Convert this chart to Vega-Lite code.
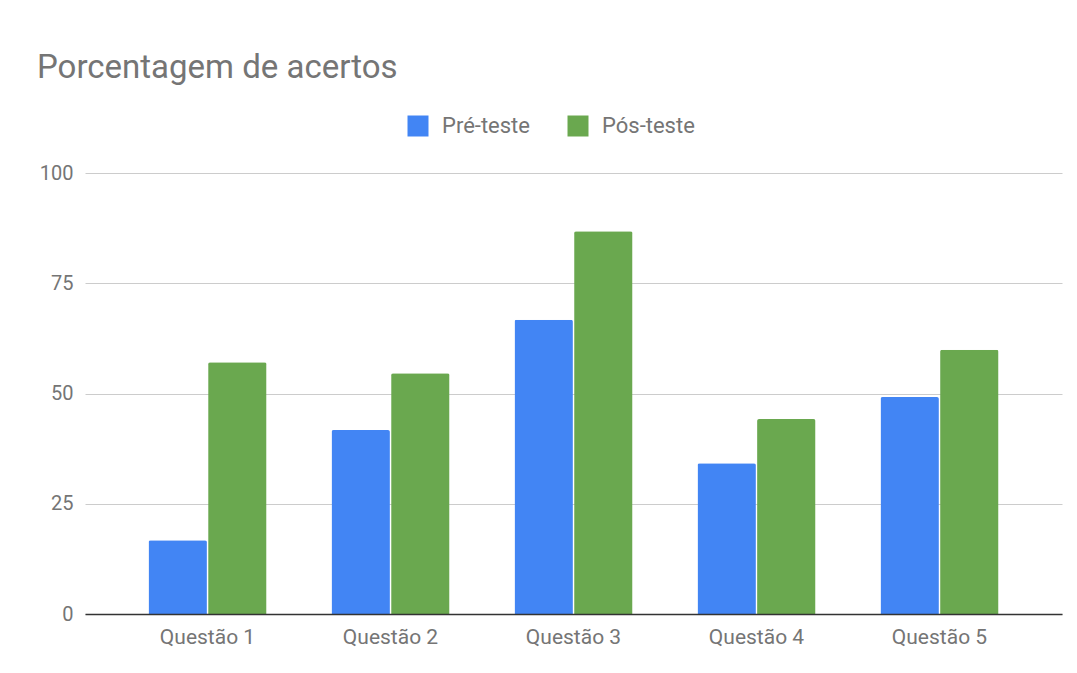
{
  "$schema": "https://vega.github.io/schema/vega-lite/v6.json",
  "width": 977,
  "height": 441,
  "autosize": {"type": "none"},
  "padding": {"left": 85, "top": 173, "right": 15, "bottom": 59},
  "background": "white",
  "config": {
    "font": "Roboto",
    "view": {"stroke": null}
  },
  "title": {
    "text": "Porcentagem de acertos",
    "anchor": "start",
    "frame": "group",
    "dx": -48,
    "offset": 30,
    "fontSize": 33,
    "fontWeight": "normal",
    "color": "#757575",
    "font": "Roboto"
  },
  "data": {
    "values": [
      {"questao": "Questão 1", "serie": "Pré-teste", "valor": 16.7},
      {"questao": "Questão 1", "serie": "Pós-teste", "valor": 57.1},
      {"questao": "Questão 2", "serie": "Pré-teste", "valor": 41.7},
      {"questao": "Questão 2", "serie": "Pós-teste", "valor": 54.6},
      {"questao": "Questão 3", "serie": "Pré-teste", "valor": 66.7},
      {"questao": "Questão 3", "serie": "Pós-teste", "valor": 86.8},
      {"questao": "Questão 4", "serie": "Pré-teste", "valor": 34.2},
      {"questao": "Questão 4", "serie": "Pós-teste", "valor": 44.2},
      {"questao": "Questão 5", "serie": "Pré-teste", "valor": 49.2},
      {"questao": "Questão 5", "serie": "Pós-teste", "valor": 59.9}
    ]
  },
  "mark": {"type": "bar", "cornerRadiusTopLeft": 2, "cornerRadiusTopRight": 2},
  "encoding": {
    "x": {
      "field": "questao",
      "type": "nominal",
      "sort": null,
      "scale": {"paddingInner": 0.355, "paddingOuter": 0.347},
      "axis": {
        "title": null,
        "labelAngle": 0,
        "ticks": false,
        "domain": true,
        "domainColor": "#333333",
        "domainWidth": 1.5,
        "labelFontSize": 21,
        "labelColor": "#757575",
        "labelPadding": 12,
        "zindex": 1
      }
    },
    "xOffset": {
      "field": "serie",
      "type": "nominal",
      "sort": ["Pré-teste", "Pós-teste"],
      "scale": {"paddingInner": 0.02}
    },
    "y": {
      "field": "valor",
      "type": "quantitative",
      "scale": {"domain": [0, 100], "nice": false},
      "axis": {
        "title": null,
        "values": [0, 25, 50, 75, 100],
        "ticks": false,
        "domain": false,
        "gridColor": "#cccccc",
        "labelFontSize": 20,
        "labelColor": "#757575",
        "labelPadding": 12
      }
    },
    "color": {
      "field": "serie",
      "type": "nominal",
      "sort": ["Pré-teste", "Pós-teste"],
      "scale": {"domain": ["Pré-teste", "Pós-teste"], "range": ["#4285f4", "#6aa84f"]},
      "legend": {
        "title": null,
        "orient": "none",
        "direction": "horizontal",
        "legendX": 322,
        "legendY": -58,
        "symbolType": "square",
        "symbolSize": 441,
        "symbolStrokeWidth": 0,
        "symbolOpacity": 1,
        "labelFontSize": 22,
        "labelColor": "#757575",
        "labelOffset": 13,
        "columnPadding": 37
      }
    }
  }
}
